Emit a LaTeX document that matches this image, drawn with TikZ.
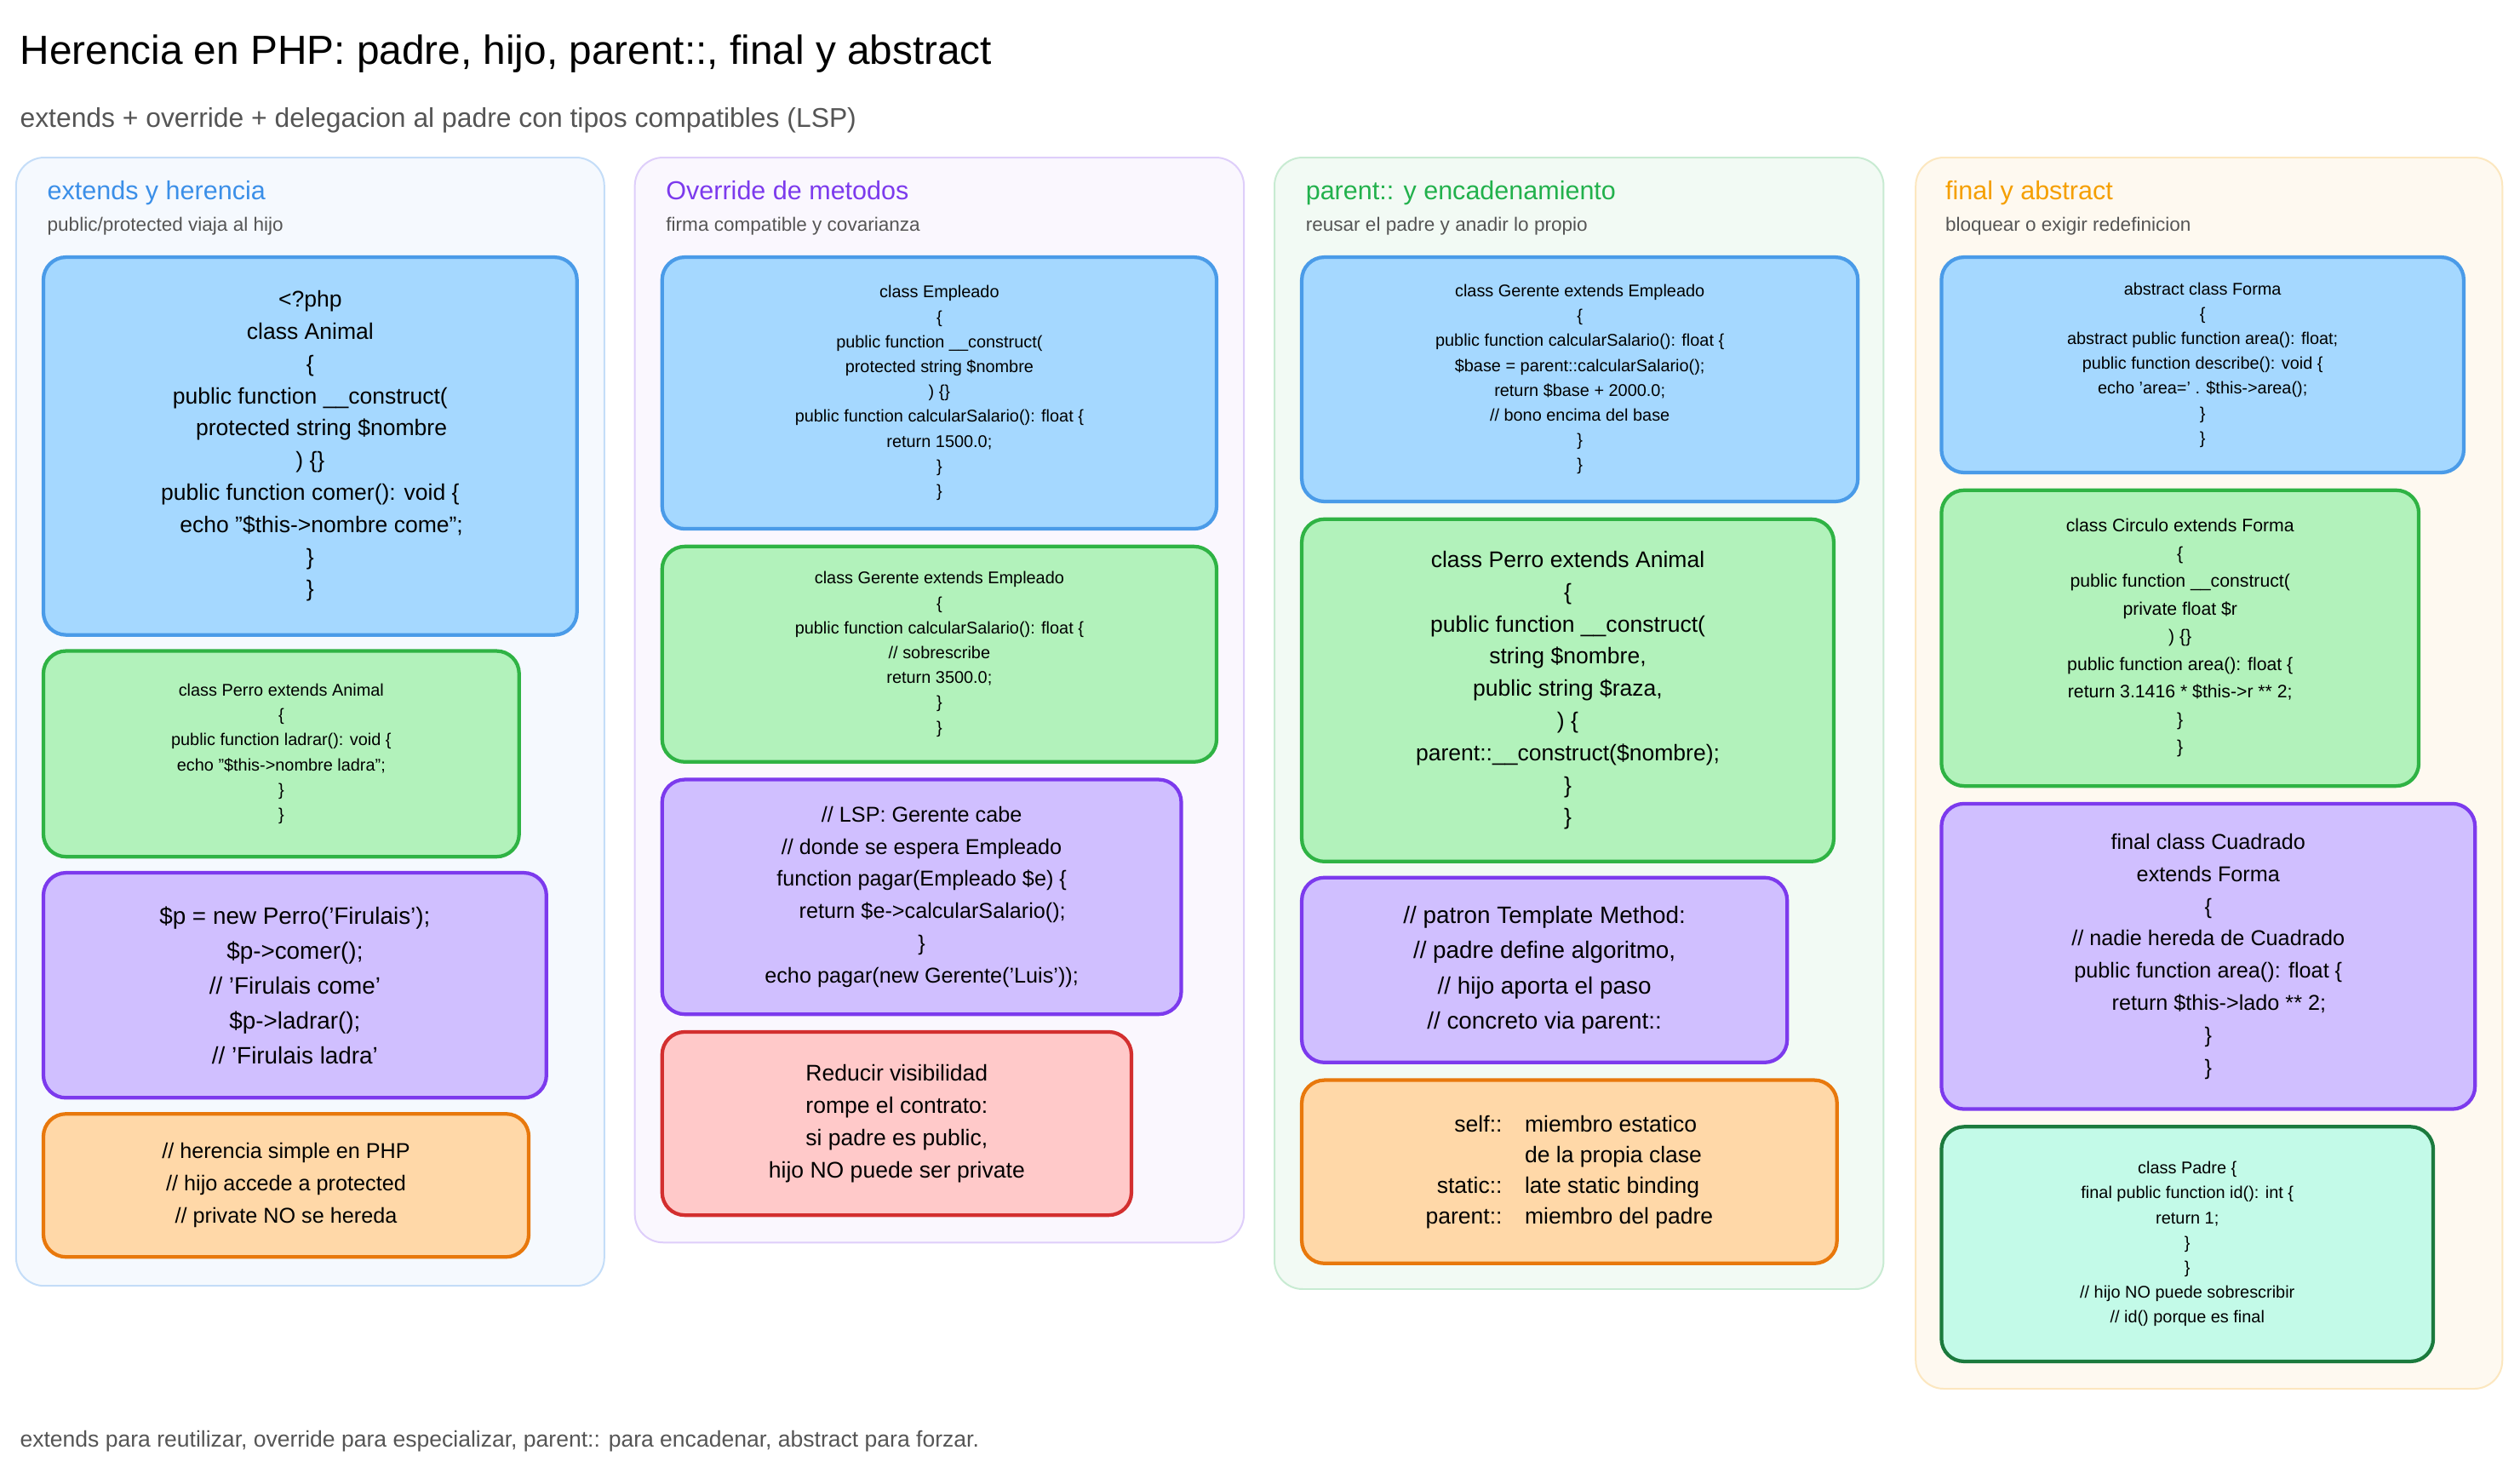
\documentclass[tikz,border=0pt]{standalone}
\usepackage{fontspec}
\setmainfont{Liberation Sans}
\definecolor{tgray}{HTML}{555555}
\definecolor{hblue}{HTML}{3B8FE8}
\definecolor{hpurple}{HTML}{7C3AED}
\definecolor{hgreen}{HTML}{22B14C}
\definecolor{horange}{HTML}{F59F00}
\definecolor{fblue}{HTML}{A5D8FF}\definecolor{sblue}{HTML}{4A9BE8}
\definecolor{fgreen}{HTML}{B2F2BB}\definecolor{sgreen}{HTML}{2FB344}
\definecolor{fpurple}{HTML}{D0BFFF}\definecolor{spurple}{HTML}{7C3AED}
\definecolor{forange}{HTML}{FFD8A8}\definecolor{sorange}{HTML}{E8780C}
\definecolor{fred}{HTML}{FFC9C9}\definecolor{sred}{HTML}{D32F2F}
\definecolor{fteal}{HTML}{C3FAE8}\definecolor{steal}{HTML}{1B7A3D}
\newcommand\mybox[8]{%
 \node[draw, rounded corners=20, line width=3.2pt, inner sep=0, #6,
   minimum width={(#4-#2)*0.05cm}, minimum height={(#5-#3)*0.05cm}]
   (#1) at ({(#2+#4)/2},{(#3+#5)/2}) {};
 \node[align=center, font=#7] (#1t) at (#1) {#8};}
\newcommand\col[7]{%
 \node[draw=#6, fill=#7, rounded corners=25, line width=1.5pt, inner sep=0,
   minimum width={(#4-#2)*0.05cm}, minimum height={(#5-#3)*0.05cm}]
   (#1) at ({(#2+#4)/2},{(#3+#5)/2}) {};}
\newcommand\fA{\fontsize{15}{22}\selectfont}
\newcommand\fB{\fontsize{20}{28.5}\selectfont}
\newcommand\fC{\fontsize{21}{31}\selectfont}
\newcommand\fD{\fontsize{19}{28.5}\selectfont}
\begin{document}
\begin{tikzpicture}[x=0.05cm,y=-0.05cm,
  hd/.style={anchor=base west, font=\fontsize{23}{26}\selectfont},
  sub/.style={anchor=base west, text=tgray, font=\fontsize{17}{20}\selectfont},
  bl/.style={fill=fblue, draw=sblue},
  gr/.style={fill=fgreen, draw=sgreen},
  pu/.style={fill=fpurple, draw=spurple},
  or/.style={fill=forange, draw=sorange},
  rd/.style={fill=fred, draw=sred},
  te/.style={fill=fteal, draw=steal}]
\useasboundingbox[fill=white] (0,0) rectangle (1568,916);
\node[anchor=base west, font=\fontsize{36}{40}\selectfont] (title) at (10,40) {Herencia en PHP: padre, hijo, parent::, final y abstract};
\node[anchor=base west, text=tgray, font=\fontsize{24}{28}\selectfont] (subt) at (10,79) {extends + override + delegacion al padre con tipos compatibles (LSP)};
\node[anchor=base west, text=tgray, font=\fontsize{20}{24}\selectfont] (foot) at (10,900) {extends para reutilizar, override para especializar, parent:: para encadenar, abstract para forzar.};
% columns
\col{c1}{10}{98}{376}{800}{hblue!30}{hblue!5}
\col{c2}{395}{98}{774}{773}{hpurple!25}{hpurple!4}
\col{c3}{793}{98}{1172}{802}{hgreen!25}{hgreen!6}
\col{c4}{1192}{98}{1557}{864}{horange!25}{horange!6}
\node[hd, text=hblue] (h1) at (27,124) {extends y herencia};
\node[sub] (s1) at (27,144) {public/protected viaja al hijo};
\node[hd, text=hpurple] (h2) at (412,124) {Override de metodos};
\node[sub] (s2) at (412,144) {firma compatible y covarianza};
\node[hd, text=hgreen] (h3) at (810,124) {parent:: y encadenamiento};
\node[sub] (s3) at (810,144) {reusar el padre y anadir lo propio};
\node[hd, text=horange] (h4) at (1208,124) {final y abstract};
\node[sub] (s4) at (1208,144) {bloquear o exigir redefinicion};
% column 1
\mybox{a1}{27}{160}{359}{395}{bl}{\fB}{<?php\\class Animal\\\{\\public function \_\_construct(\\\quad protected string \$nombre\\) \{\}\\public function comer(): void \{\\\quad echo "\$this->nombre come";\\\}\\\}}
\mybox{a2}{27}{405}{323}{533}{gr}{\fA}{class Perro extends Animal\\\{\\public function ladrar(): void \{\\echo "\$this->nombre ladra";\\\}\\\}}
\mybox{a3}{27}{543}{340}{683}{pu}{\fC}{\$p = new Perro('Firulais');\\\$p->comer();\\// 'Firulais come'\\\$p->ladrar();\\// 'Firulais ladra'}
\mybox{a4}{27}{693}{329}{782}{or}{\fD}{// herencia simple en PHP\\// hijo accede a protected\\// private NO se hereda}
% column 2
\mybox{b1}{412}{160}{757}{329}{bl}{\fA}{class Empleado\\\{\\public function \_\_construct(\\protected string \$nombre\\) \{\}\\public function calcularSalario(): float \{\\return 1500.0;\\\}\\\}}
\mybox{b2}{412}{340}{757}{474}{gr}{\fA}{class Gerente extends Empleado\\\{\\public function calcularSalario(): float \{\\// sobrescribe\\return 3500.0;\\\}\\\}}
\mybox{b3}{412}{485}{735}{631}{pu}{\fD}{// LSP: Gerente cabe\\// donde se espera Empleado\\function pagar(Empleado \$e) \{\\\quad return \$e->calcularSalario();\\\}\\echo pagar(new Gerente('Luis'));}
\mybox{b4}{412}{642}{704}{756}{rd}{\fB}{Reducir visibilidad\\rompe el contrato:\\si padre es public,\\hijo NO puede ser private}
% column 3
\mybox{d1}{810}{160}{1156}{312}{bl}{\fA}{class Gerente extends Empleado\\\{\\public function calcularSalario(): float \{\\\$base = parent::calcularSalario();\\return \$base + 2000.0;\\// bono encima del base\\\}\\\}}
\mybox{d2}{810}{323}{1141}{536}{gr}{\fB}{class Perro extends Animal\\\{\\public function \_\_construct(\\string \$nombre,\\public string \$raza,\\) \{\\parent::\_\_construct(\$nombre);\\\}\\\}}
\mybox{d3}{810}{546}{1112}{661}{pu}{\fC}{// patron Template Method:\\// padre define algoritmo,\\// hijo aporta el paso\\// concreto via parent::}
\mybox{d4}{810}{672}{1143}{786}{or}{\fB}{\renewcommand\arraystretch{0.95}\begin{tabular}{@{}r@{\quad}l@{}}self:: & miembro estatico\\ & de la propia clase\\static:: & late static binding\\parent:: & miembro del padre\end{tabular}}
% column 4
\mybox{e1}{1208}{160}{1533}{294}{bl}{\fA}{abstract class Forma\\\{\\abstract public function area(): float;\\public function describe(): void \{\\echo 'area=' . \$this->area();\\\}\\\}}
\mybox{e2}{1208}{305}{1505}{489}{gr}{\fontsize{16}{24.5}\selectfont}{class Circulo extends Forma\\\{\\public function \_\_construct(\\private float \$r\\) \{\}\\public function area(): float \{\\return 3.1416 * \$this->r ** 2;\\\}\\\}}
\mybox{e3}{1208}{500}{1540}{690}{pu}{\fD}{final class Cuadrado\\extends Forma\\\{\\// nadie hereda de Cuadrado\\public function area(): float \{\\\quad return \$this->lado ** 2;\\\}\\\}}
\mybox{e4}{1208}{701}{1514}{847}{te}{\fA}{class Padre \{\\final public function id(): int \{\\return 1;\\\}\\\}\\// hijo NO puede sobrescribir\\// id() porque es final}
\end{tikzpicture}
\end{document}
